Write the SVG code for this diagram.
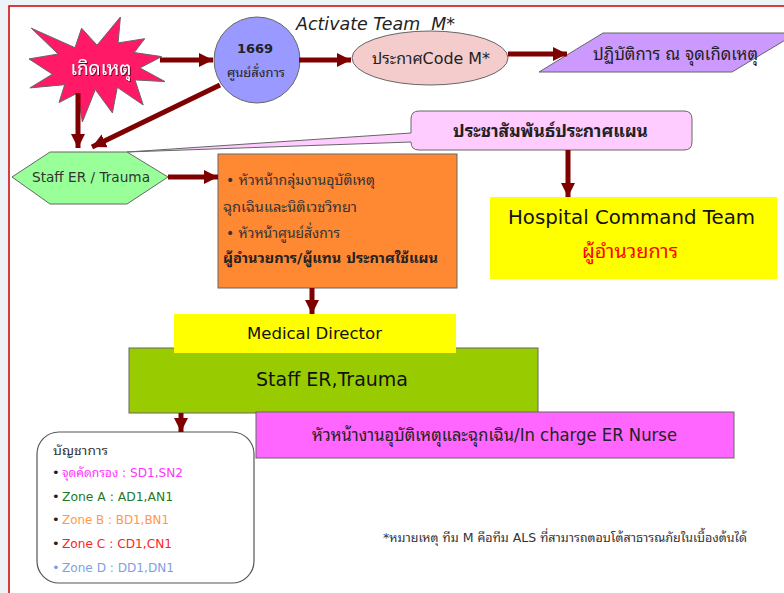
<svg xmlns="http://www.w3.org/2000/svg" width="784" height="593" viewBox="0 0 784 593">
  <style>
    .t { font-family: "DejaVu Sans", "Noto Sans Thai Looped", "Noto Sans Thai", "Noto Sans", sans-serif; }
    .c { text-anchor: middle; }
    .edge { stroke: #7f0000; stroke-width: 5; fill: none; marker-end: url(#arrow); }
    .box { stroke: #666; stroke-width: 1; }
    .lg { font-size: 13px; }
  </style>
  <defs>
    <marker id="arrow" markerUnits="userSpaceOnUse" markerWidth="16" markerHeight="16" refX="14" refY="8" orient="auto">
      <path d="M0,1 L14,8 L0,15 Z" fill="#7f0000"/>
    </marker>
    <filter id="shadow" x="-10%" y="-20%" width="130%" height="150%">
      <feDropShadow dx="1" dy="1" stdDeviation="0.6" flood-color="#000" flood-opacity="0.6"/>
    </filter>
  </defs>

  <!-- page background and red frame -->
  <rect x="0" y="0" width="784" height="593" fill="#eef3f7"/>
  <rect x="9" y="6" width="790" height="600" fill="#ffffff"/>
  <path d="M9,593 L9,6 L784,6" stroke="#d00000" stroke-width="1.5" fill="none"/>

  <!-- incident -->
  <g id="incident">
    <polygon class="box" fill="#ff1966" points="97,45.2 120.4,17 118.1,42.9 144.7,38.7 134.2,52.6 161.8,56.6 139.9,67.9 165,81.6 135,79.9 143.2,105 117.3,87.3 112.4,112.9 95.3,89.6 82.4,122 77.6,93 59,102.6 64.7,84.7 29.9,87.9 52.4,74.2 29,58.9 58.1,54 31.3,28.2 75,47.7 81.6,28.2"/>
    <text class="t c" x="101" y="75" font-size="19" fill="#ffffff" filter="url(#shadow)">เกิดเหตุ</text>
  </g>

  <!-- 1669 command centre -->
  <g id="center1669">
    <circle class="box" cx="257" cy="60" r="43" fill="#9999ff"/>
    <text class="t c" x="255" y="53" font-size="13" font-weight="bold" fill="#222">1669</text>
    <text class="t c" x="256" y="77" font-size="13" fill="#222">ศูนย์สั่งการ</text>
  </g>

  <text id="activate-label" class="t" x="296" y="30" font-size="18" font-style="italic" fill="#222" xml:space="preserve" textLength="159" lengthAdjust="spacingAndGlyphs">Activate Team  M*</text>

  <!-- announce code M -->
  <g id="codeM">
    <ellipse class="box" cx="430" cy="58" rx="78" ry="27" fill="#f4cccc"/>
    <text class="t" x="372" y="64" font-size="16" fill="#222" textLength="118" lengthAdjust="spacingAndGlyphs">ประกาศCode M*</text>
  </g>

  <!-- field operation -->
  <g id="field">
    <polygon class="box" fill="#cc99ff" points="603,33 797,33 732,72 539,72"/>
    <text class="t" x="593" y="60" font-size="17" fill="#222" textLength="165" lengthAdjust="spacingAndGlyphs">ปฏิบัติการ ณ จุดเกิดเหตุ</text>
  </g>

  <!-- public relations callout -->
  <g id="pr">
    <path class="box" fill="#ffccff" d="M419,111 L684,111 Q692,111 692,119 L692,142 Q692,150 684,150 L419,150 Q411,150 411,142 L127,152 L411,133 L411,119 Q411,111 419,111 Z"/>
    <text class="t" x="453" y="137" font-size="17.5" font-weight="bold" fill="#222" textLength="195" lengthAdjust="spacingAndGlyphs">ประชาสัมพันธ์ประกาศแผน</text>
  </g>

  <!-- staff ER / trauma -->
  <g id="staff">
    <polygon class="box" fill="#99ff99" points="12,177 50,152 127,152 168,177 127,204 50,204"/>
    <text class="t" x="32" y="182" font-size="14" fill="#333" textLength="118" lengthAdjust="spacingAndGlyphs">Staff ER / Trauma</text>
  </g>

  <!-- heads of units -->
  <g id="heads">
    <rect class="box" x="218" y="154" width="239" height="134" fill="#ff8833"/>
    <text class="t" x="226" y="185" font-size="14.5" fill="#333" textLength="149" lengthAdjust="spacingAndGlyphs">• หัวหน้ากลุ่มงานอุบัติเหตุ</text>
    <text class="t" x="223" y="212" font-size="14.5" fill="#333" textLength="134" lengthAdjust="spacingAndGlyphs">ฉุกเฉินและนิติเวชวิทยา</text>
    <text class="t" x="226" y="238" font-size="14.5" fill="#333" textLength="114" lengthAdjust="spacingAndGlyphs">• หัวหน้าศูนย์สั่งการ</text>
    <text class="t" x="223" y="263" font-size="14.5" font-weight="bold" fill="#222" textLength="215" lengthAdjust="spacingAndGlyphs">ผู้อำนวยการ/ผู้แทน ประกาศใช้แผน</text>
  </g>

  <!-- hospital command team -->
  <g id="hct">
    <rect x="490" y="197" width="287" height="82" fill="#ffff00"/>
    <text class="t" x="508" y="224" font-size="19.5" fill="#111" textLength="247" lengthAdjust="spacingAndGlyphs">Hospital Command Team</text>
    <text class="t" x="582" y="258" font-size="20" fill="#ff0000" textLength="96" lengthAdjust="spacingAndGlyphs">ผู้อำนวยการ</text>
  </g>

  <!-- staff ER, trauma team -->
  <g id="staff-team">
    <rect class="box" x="129" y="348" width="409" height="65" fill="#99cc00"/>
    <text class="t" x="256" y="386" font-size="19" fill="#111" textLength="152" lengthAdjust="spacingAndGlyphs">Staff ER,Trauma</text>
  </g>

  <!-- medical director -->
  <g id="md">
    <rect x="174" y="314" width="282" height="39" fill="#ffff00"/>
    <text class="t" x="247" y="339" font-size="16" fill="#111" textLength="135" lengthAdjust="spacingAndGlyphs">Medical Director</text>
  </g>

  <!-- in-charge ER nurse -->
  <g id="nurse">
    <rect class="box" x="256" y="412" width="478" height="46" fill="#ff66ff"/>
    <text class="t" x="312" y="441" font-size="17.5" fill="#222" textLength="365" lengthAdjust="spacingAndGlyphs">หัวหน้างานอุบัติเหตุและฉุกเฉิน/In charge ER Nurse</text>
  </g>

  <!-- command legend -->
  <g id="legend">
    <rect x="37" y="432" width="217" height="151" rx="22" ry="22" fill="#ffffff" stroke="#555" stroke-width="1.2"/>
    <text class="t lg" x="53" y="455" fill="#333" textLength="55" lengthAdjust="spacingAndGlyphs">บัญชาการ</text>
    <text class="t lg" x="52" y="477" fill="#222">•</text>
    <text class="t lg" x="62" y="477" fill="#ff33ff" textLength="121" lengthAdjust="spacingAndGlyphs">จุดคัดกรอง : SD1,SN2</text>
    <text class="t lg" x="52" y="501" fill="#222">•</text>
    <text class="t lg" x="62" y="501" fill="#1f7a1f" textLength="111" lengthAdjust="spacingAndGlyphs">Zone A : AD1,AN1</text>
    <text class="t lg" x="52" y="524" fill="#222">•</text>
    <text class="t lg" x="62" y="524" fill="#ff9944" textLength="107" lengthAdjust="spacingAndGlyphs">Zone B : BD1,BN1</text>
    <text class="t lg" x="52" y="548" fill="#222">•</text>
    <text class="t lg" x="62" y="548" fill="#ff2222" textLength="110" lengthAdjust="spacingAndGlyphs">Zone C : CD1,CN1</text>
    <text class="t lg" x="52" y="572" fill="#7f9fe0">•</text>
    <text class="t lg" x="62" y="572" fill="#7f9fe0" textLength="112" lengthAdjust="spacingAndGlyphs">Zone D : DD1,DN1</text>
  </g>

  <text id="note" class="t" x="383" y="542" font-size="13" fill="#333" textLength="364" lengthAdjust="spacingAndGlyphs">*หมายเหตุ ทีม M คือทีม ALS ที่สามารถตอบโต้สาธารณภัยในเบื้องต้นได้</text>

  <!-- connectors -->
  <g id="connectors">
    <line class="edge" x1="160" y1="60" x2="213" y2="60"/>
    <line class="edge" x1="299" y1="60" x2="351" y2="60"/>
    <line class="edge" x1="508" y1="54" x2="567" y2="54"/>
    <line class="edge" x1="78" y1="93" x2="78" y2="148"/>
    <line class="edge" x1="220" y1="85" x2="92" y2="147"/>
    <line class="edge" x1="168" y1="177" x2="218" y2="177"/>
    <line class="edge" x1="568" y1="150" x2="568" y2="197"/>
    <line class="edge" x1="312" y1="288" x2="312" y2="314"/>
    <line class="edge" x1="181" y1="413" x2="181" y2="432"/>
  </g>
</svg>
